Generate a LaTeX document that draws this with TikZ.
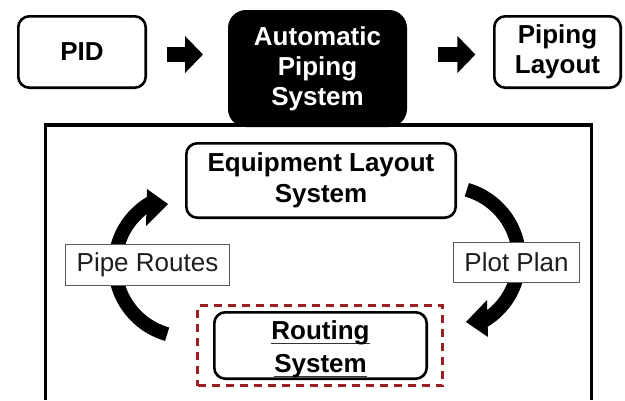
\documentclass[tikz,border=0pt]{standalone}
\usepackage{fontspec}
\setmainfont{Liberation Sans}
\usetikzlibrary{arrows.meta}
\definecolor{dashred}{RGB}{155,32,36}
\definecolor{lblborder}{RGB}{90,90,90}
\definecolor{lbltext}{RGB}{30,30,30}
\newcommand\myul[1]{\setbox0\hbox{#1}\rlap{\color{black!80}\rule[-4pt]{\wd0}{1.3pt}}\box0}
\tikzset{
  box/.style={draw, line width=2.6pt, rounded corners=11pt, fill=white,
    font=\bfseries\fontsize{26}{30}\selectfont, align=center, inner sep=0pt},
  blackbox/.style={fill=black, rounded corners=18pt, text=white,
    font=\bfseries\fontsize{26}{30}\selectfont, align=center, inner sep=0pt},
  lbl/.style={draw=lblborder, line width=1pt, fill=white, text=lbltext,
    font=\fontsize{26}{30}\selectfont, inner sep=0pt},
  dashframe/.style={draw=dashred, line width=3pt, dash pattern=on 8pt off 6pt, inner sep=0pt},
  blockarrow/.style={line width=15pt, -{Triangle[length=18pt,width=36pt]}},
  cyclearc/.style={line width=14pt, line cap=butt},
}
\begin{document}
\begin{tikzpicture}[x=1pt,y=-1pt]
\useasboundingbox (0,0) rectangle (625,400);
% outer frame
\draw[line width=3.5pt] (45.5,400) -- (45.5,125) -- (591.5,125) -- (591.5,400);
% top row
\node[box, minimum width=127.4pt, minimum height=71.4pt] (pid) at (82,52) {PID};
\node[blackbox, minimum width=179pt, minimum height=117pt] (auto) at (317.5,68.5) {Automatic\\Piping\\System};
\node[box, minimum width=126.4pt, minimum height=71.4pt] (layout) at (557.5,52) {Piping\\Layout};
\draw[blockarrow] ([xshift=19.6pt,yshift=-2.5pt]pid.east) -- ([xshift=-24.8pt,yshift=-2.5pt]auto.west |- pid.east);
\draw[blockarrow] ([xshift=30.8pt,yshift=-2.5pt]auto.east |- layout.west) -- ([xshift=-17.6pt,yshift=-2.5pt]layout.west);
% cycle arcs
\coordinate (lc) at (187,265);
\coordinate (rc) at (447,259);
\draw[cyclearc] ([shift={(106:72)}]lc) arc[start angle=106, end angle=240, radius=72];
\fill (147,189) -- (168,204) -- (146,226) -- cycle;
\draw[cyclearc] ([shift={(-74:72)}]rc) arc[start angle=-74, end angle=60, radius=72];
\fill (487,300) -- (488,337) -- (466,322) -- cycle;
% inner nodes
\node[box, minimum width=269.4pt, minimum height=74.4pt, font=\bfseries\fontsize{26}{31}\selectfont] (equip) at (321,180.5) {Equipment Layout\\System};
\node[dashframe, minimum width=245pt, minimum height=80pt] (routeframe) at (320,345.5) {};
\node[box, minimum width=212.4pt, minimum height=66.4pt, font=\bfseries\fontsize{26}{33}\selectfont] (routing) at (320.5,345.5) {\rule{0pt}{27pt}\myul{Routing}\\\myul{System}};
\node[lbl, minimum width=164pt, minimum height=41pt] (pipe) at (147.5,265) {Pipe Routes};
\node[lbl, minimum width=126pt, minimum height=40pt] (plot) at (516.5,262.5) {Plot Plan};
\end{tikzpicture}
\end{document}
